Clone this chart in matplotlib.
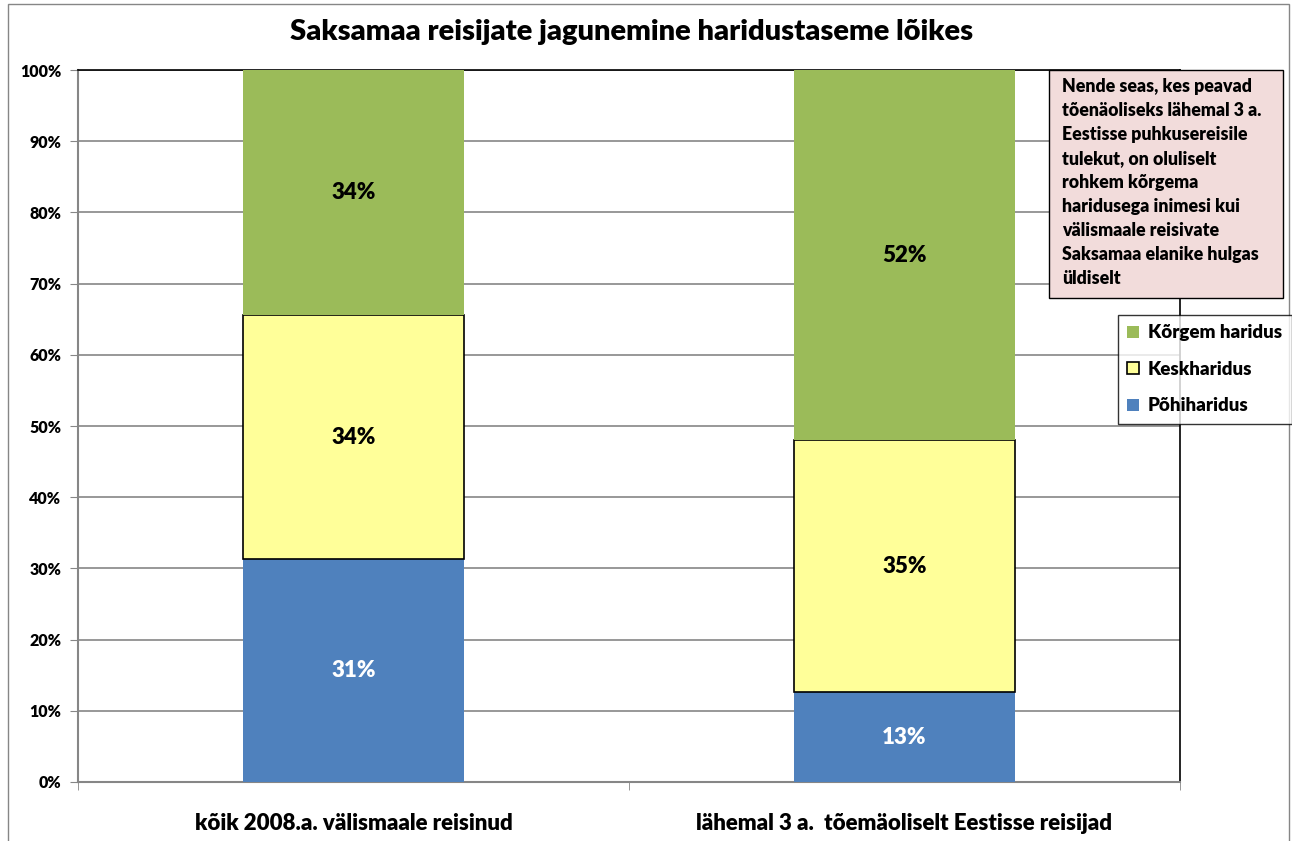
import numpy as np
import matplotlib
matplotlib.use('Agg')
import matplotlib.pyplot as plt
from matplotlib.patches import Rectangle

plt.rcParams['font.family'] = ['Lato', 'DejaVu Sans']
plt.rcParams['font.weight'] = 'heavy'
WT = 'heavy'

categories = ['kõik 2008.a. välismaale reisinud', 'lähemal 3 a.  tõemäoliselt Eestisse reisijad']
series_names = ['Põhiharidus', 'Keskharidus', 'Kõrgem haridus']
pohi = [31.3, 12.6]
kesk = [34.3, 35.4]
korgem = [34.4, 52.0]
note = ('Nende seas, kes peavad\ntõenäoliseks lähemal 3 a.\nEestisse puhkusereisile\n'
        'tulekut, on oluliselt\nrohkem kõrgema\nharidusega inimesi kui\n'
        'välismaale reisivate\nSaksamaa elanike hulgas\nüldiselt')

colors = ['#4F81BD', '#FFFF99', '#9BBB59']
edges = ['none', 'black', 'none']
label_colors = ['white', 'black', 'black']

W, H = 1292, 841
fig = plt.figure(figsize=(W / 100, H / 100), dpi=100)
ax = fig.add_axes([78 / W, 1 - 782 / H, (1180 - 78) / W, (782 - 70) / H])

x = np.arange(len(categories))
bottom = np.zeros(len(categories))
bars = []
for vals, name, c, ec, lc in zip([pohi, kesk, korgem], series_names, colors, edges, label_colors):
    vals = np.array(vals)
    b = ax.bar(x, vals, 0.4, bottom=bottom, color=c, edgecolor=ec, linewidth=1.2,
               label=name, zorder=3)
    bars.append(b)
    for xi, v, bt in zip(x, vals, bottom):
        ax.text(xi, bt + v / 2, f'{v:.0f}%', ha='center', va='center',
                color=lc, fontsize=16, fontweight=WT, zorder=4)
    bottom = bottom + vals

ax.set_xlim(-0.5, 1.5)
ax.set_ylim(0, 100)
ax.set_yticks(np.arange(0, 101, 10))
ax.set_yticklabels([f'{t}%' for t in range(0, 101, 10)], fontsize=11.5, fontweight=WT)
ax.set_xticks(x)
ax.set_xticklabels(categories, fontsize=16, fontweight=WT)
ax.tick_params(axis='x', length=0, pad=22)
ax.set_xticks([-0.5, 0.5, 1.5], minor=True)
ax.tick_params(axis='x', which='minor', length=6, color='#868686')
ax.tick_params(axis='y', length=6, color='#868686', pad=6)
ax.grid(axis='y', color='#868686', linewidth=1.2, zorder=0)
for s in ['left', 'bottom']:
    ax.spines[s].set_color('#868686')
    ax.spines[s].set_linewidth(1.5)
for s in ['top', 'right']:
    ax.spines[s].set_color('black')
    ax.spines[s].set_linewidth(1.2)

fig.text(632 / W, 1 - 32 / H, 'Saksamaa reisijate jagunemine haridustaseme lõikes',
         ha='center', va='center', fontsize=21, fontweight=WT)

# annotation box
fig.patches.append(Rectangle((1049 / W, 1 - 298 / H), (1283 - 1049) / W, (298 - 70) / H,
                             transform=fig.transFigure, facecolor='#F2DCDB',
                             edgecolor='black', linewidth=1, zorder=5))
fig.text(1062 / W, 1 - 78 / H, note, ha='left', va='top', fontsize=12.8,
         fontweight=WT, linespacing=1.5, zorder=6)

# legend
handles = [bars[2], bars[1], bars[0]]
leg = fig.legend(handles, [series_names[2], series_names[1], series_names[0]],
                 loc='upper left', bbox_to_anchor=(1118 / W, 1 - 315 / H),
                 frameon=True, fancybox=False, edgecolor='black',
                 prop={'size': 13.5, 'weight': WT},
                 handlelength=0.6, handleheight=0.6, handletextpad=0.5,
                 labelspacing=1.04, borderpad=0.5, borderaxespad=0)
leg.get_frame().set_linewidth(1)

# outer chart border
fig.patches.append(Rectangle((8 / W, -0.01), (1289 - 8) / W, 1.005,
                             transform=fig.transFigure, facecolor='none',
                             edgecolor='#868686', linewidth=1))

fig.savefig('out.png', dpi=100)
